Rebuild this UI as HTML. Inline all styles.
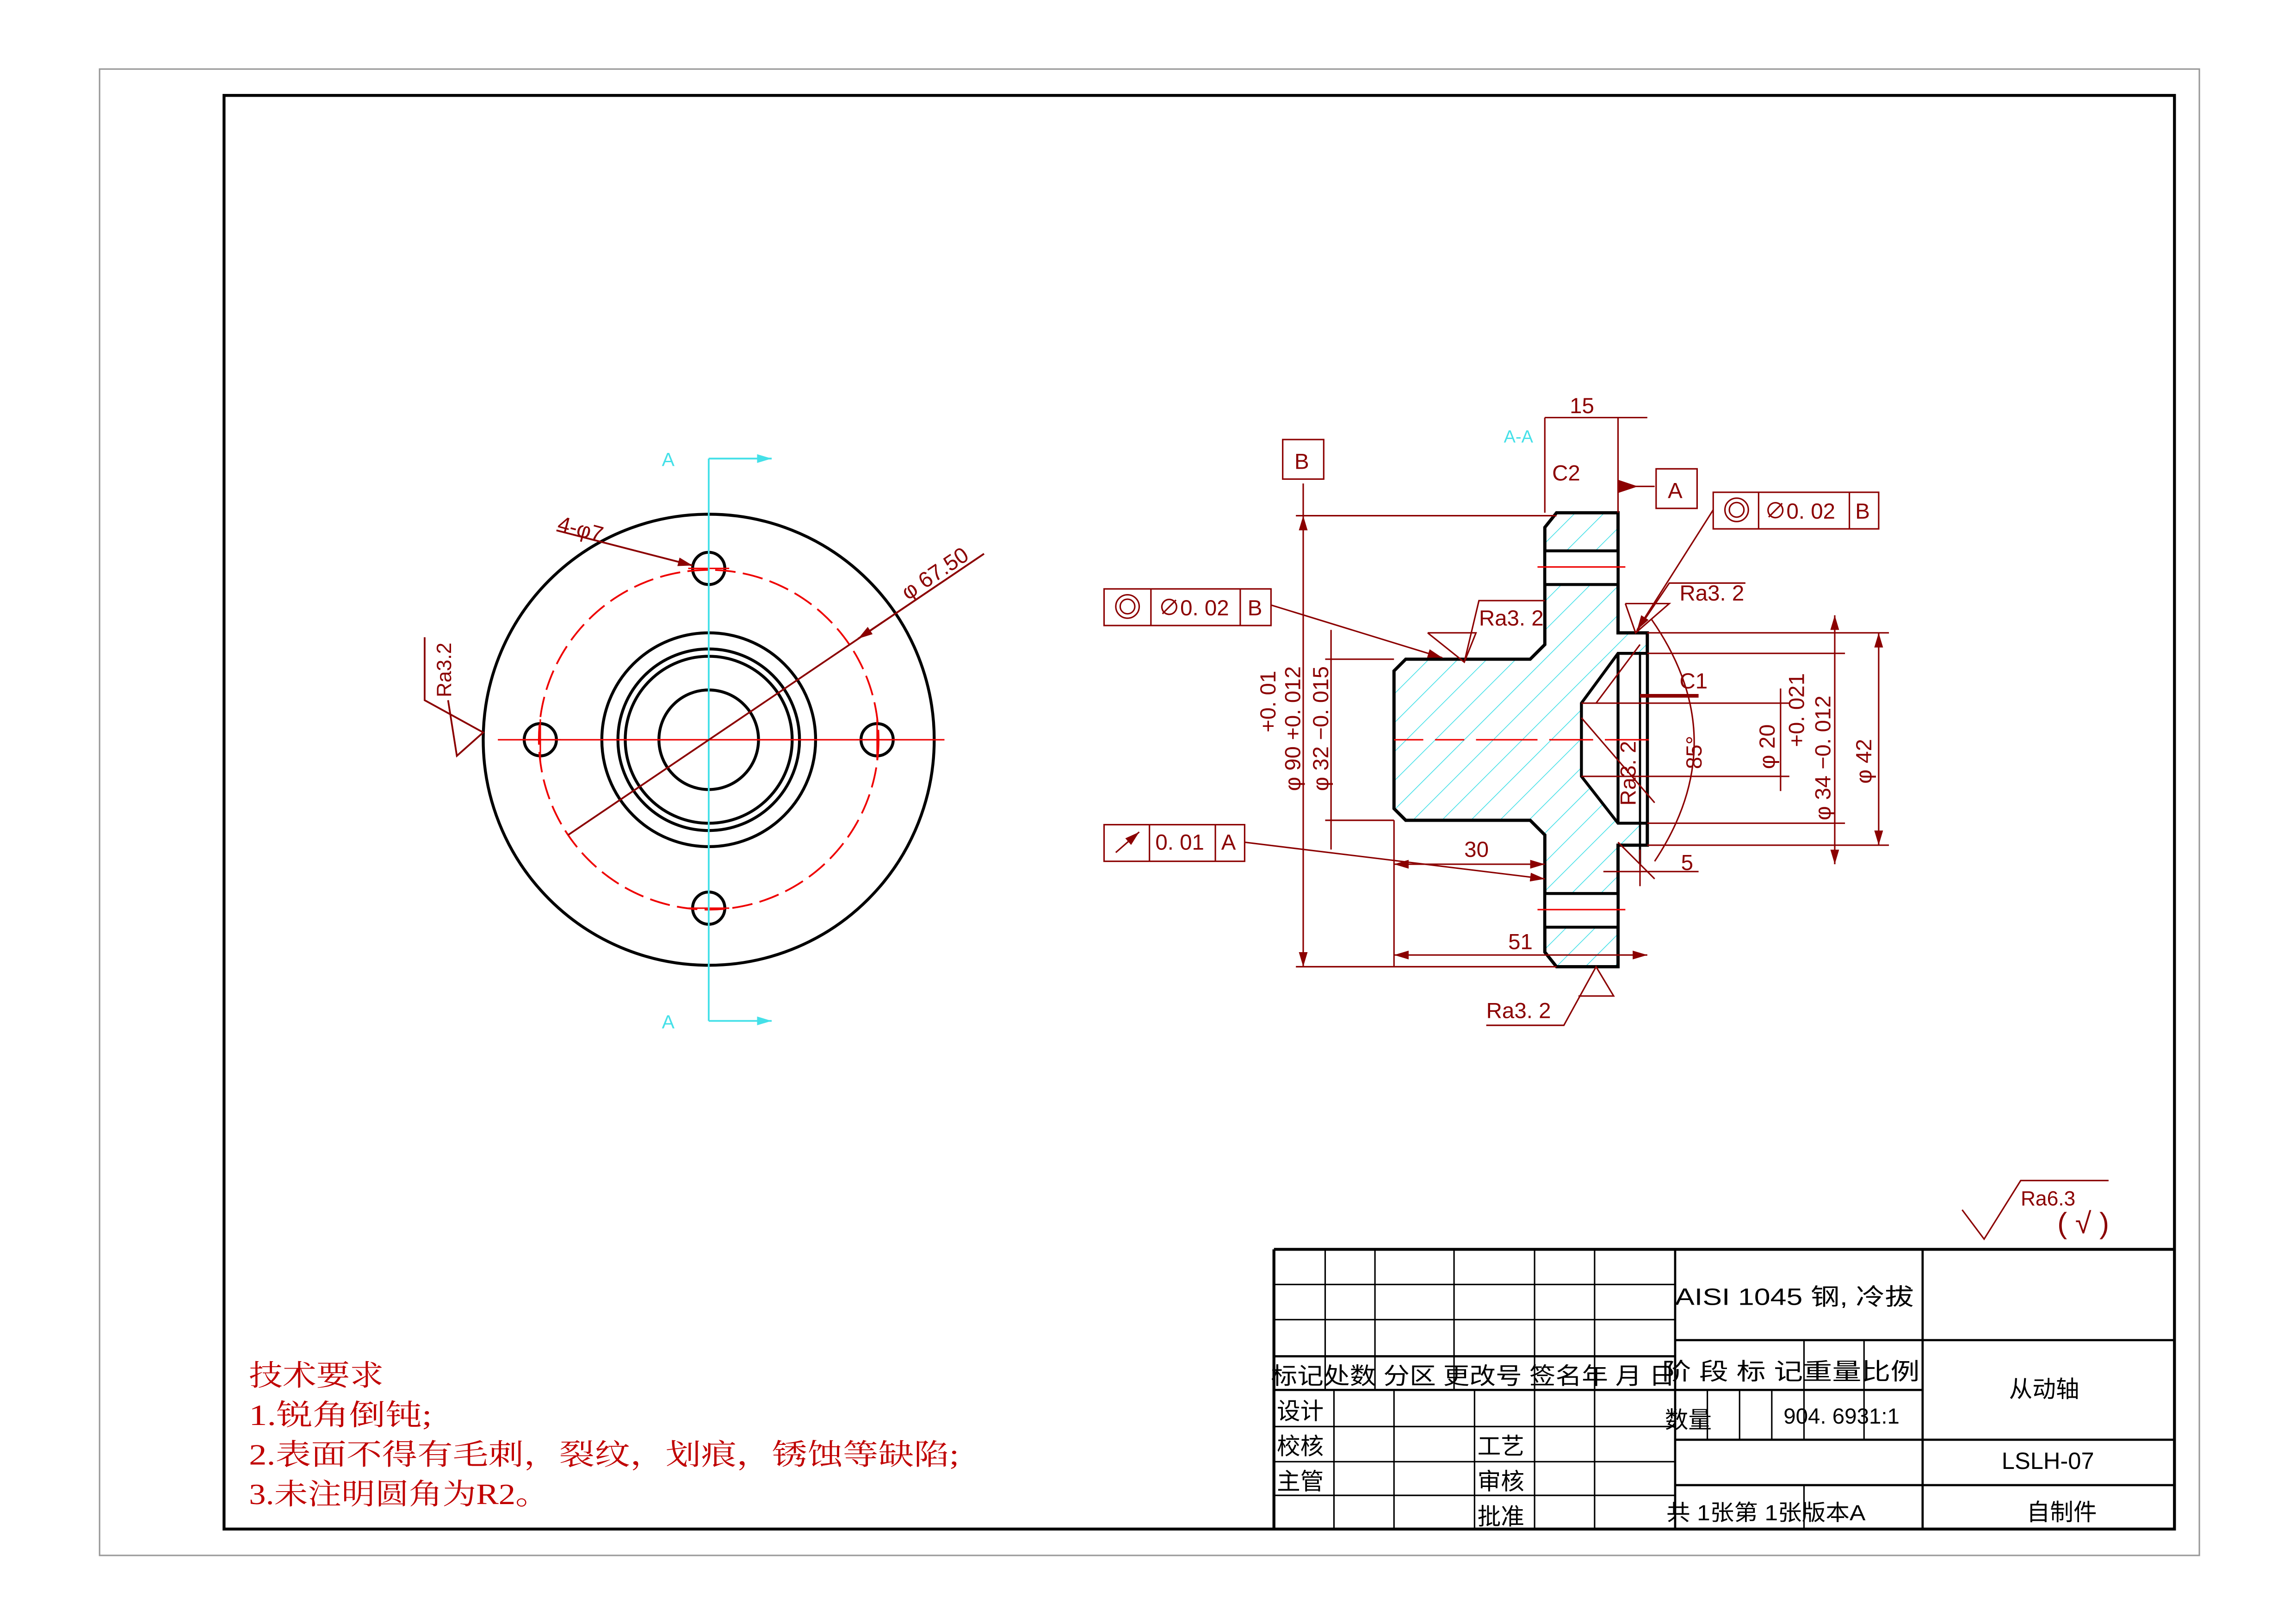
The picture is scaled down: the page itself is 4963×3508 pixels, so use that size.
<!DOCTYPE html>
<html><head><meta charset="utf-8"><style>
html,body{margin:0;padding:0;background:#fff}
svg{display:block}
text{font-family:"Liberation Sans","Noto Sans CJK SC",sans-serif}
</style></head><body>
<svg width="4963" height="3508" viewBox="0 0 1568 1108" xmlns="http://www.w3.org/2000/svg">
<defs>
<pattern id="h" patternUnits="userSpaceOnUse" width="14" height="14" patternTransform="rotate(45)">
<rect width="14" height="14" fill="#fff"/><line x1="0" y1="0" x2="0" y2="14" stroke="#44e0e8" stroke-width="1"/>
</pattern>
<marker id="ar" markerWidth="10" markerHeight="6" refX="10" refY="3" orient="auto" markerUnits="userSpaceOnUse"><path d="M0,0 L10,3 L0,6z" fill="#8b0000"/></marker>
<marker id="as" markerWidth="10" markerHeight="6" refX="0" refY="3" orient="auto" markerUnits="userSpaceOnUse"><path d="M10,0 L0,3 L10,6z" fill="#8b0000"/></marker>
<marker id="ac" markerWidth="10" markerHeight="6" refX="10" refY="3" orient="auto" markerUnits="userSpaceOnUse"><path d="M0,0 L10,3 L0,6z" fill="#44e0e8"/></marker>
</defs>
<rect x="68" y="47" width="1434" height="1015" fill="none" stroke="#999" stroke-width="1"/>
<rect x="153" y="65" width="1332" height="979" fill="none" stroke="#000" stroke-width="2"/>

<g fill="none" stroke="#000" stroke-width="2">
<circle cx="484" cy="505" r="154"/>
<circle cx="484" cy="505" r="73"/>
<circle cx="484" cy="505" r="62"/>
<circle cx="484" cy="505" r="57"/>
<circle cx="484" cy="505" r="34"/>
<circle cx="484" cy="388" r="11"/>
<circle cx="369" cy="505" r="11"/>
<circle cx="599" cy="505" r="11"/>
<circle cx="484" cy="620" r="11"/>
</g>
<circle cx="484" cy="505" r="116" fill="none" stroke="#e00" stroke-width="1.2" stroke-dasharray="14,5"/>
<g stroke="#e00" stroke-width="1">
<line x1="340" y1="505" x2="645" y2="505"/>
<line x1="355" y1="505" x2="383" y2="505"/><line x1="369" y1="491" x2="369" y2="519"/>
<line x1="585" y1="505" x2="613" y2="505"/><line x1="599" y1="491" x2="599" y2="519"/>
<line x1="470" y1="388" x2="498" y2="388"/><line x1="470" y1="620" x2="498" y2="620"/>
</g>
<g stroke="#44e0e8" stroke-width="1.2" fill="none">
<line x1="484" y1="313" x2="484" y2="697"/>
<line x1="484" y1="313" x2="527" y2="313" marker-end="url(#ac)"/>
<line x1="484" y1="697" x2="527" y2="697" marker-end="url(#ac)"/>
</g>
<text x="452" y="318" font-size="13" fill="#44e0e8">A</text>
<text x="452" y="702" font-size="13" fill="#44e0e8">A</text>
<g stroke="#8b0000" stroke-width="1.2" fill="none">
<line x1="380" y1="362" x2="473" y2="386" marker-end="url(#ar)"/>
<line x1="672" y1="378" x2="388" y2="570"/>
<line x1="672" y1="378" x2="586" y2="436" marker-end="url(#ar)"/>
<polyline points="290,435 290,478 330,500 312,516 306,478"/>
</g>
<text x="380" y="362" font-size="15" fill="#8b0000" transform="rotate(15 380 362)">4-φ7</text>
<text x="620" y="410" font-size="15" fill="#8b0000" transform="rotate(-34 620 410)">φ 67.50</text>
<text x="308" y="476" font-size="14" fill="#8b0000" transform="rotate(-90 308 476)">Ra3.2</text>

<path d="M1063,350 L1105,350 L1105,432 L1125,432 L1125,577 L1105,577 L1105,660 L1063,660 L1055,650 L1055,570 L1045,560 L960,560 L952,552 L952,458 L960,450 L1045,450 L1055,440 L1055,360 Z" fill="url(#h)" stroke="#000" stroke-width="2.2"/>
<path d="M1125,446 L1105,446 L1080,480 L1080,530 L1105,562 L1125,562 Z" fill="#fff" stroke="#000" stroke-width="2"/>
<line x1="1105" y1="446" x2="1105" y2="562" stroke="#000" stroke-width="2"/>
<line x1="1120" y1="446" x2="1120" y2="590" stroke="#000" stroke-width="1.5"/>
<rect x="1055" y="376" width="50" height="23" fill="#fff" stroke="#000" stroke-width="2"/>
<rect x="1055" y="610" width="50" height="23" fill="#fff" stroke="#000" stroke-width="2"/>
<g stroke="#e00" stroke-width="1"><line x1="1050" y1="387" x2="1110" y2="387"/><line x1="1050" y1="621" x2="1110" y2="621"/>
<line x1="1020" y1="505" x2="1130" y2="505" stroke-dasharray="30,8"/><line x1="952" y1="505" x2="1020" y2="505" stroke-dasharray="20,8"/></g>

<g stroke="#8b0000" stroke-width="1" fill="none">
<line x1="885" y1="352" x2="1063" y2="352"/>
<line x1="885" y1="660" x2="1063" y2="660"/>
<line x1="890" y1="352" x2="890" y2="660" marker-start="url(#as)" marker-end="url(#ar)"/>
<line x1="890" y1="330" x2="890" y2="352"/>
<line x1="905" y1="450" x2="952" y2="450"/>
<line x1="905" y1="560" x2="952" y2="560"/>
<line x1="909" y1="430" x2="909" y2="580"/>
<line x1="952" y1="560" x2="952" y2="660"/>
<line x1="952" y1="652" x2="1125" y2="652" marker-start="url(#as)" marker-end="url(#ar)"/>
<line x1="952" y1="590" x2="1055" y2="590" marker-start="url(#as)" marker-end="url(#ar)"/>
<line x1="1055" y1="285" x2="1055" y2="350"/>
<line x1="1105" y1="285" x2="1105" y2="350"/>
<line x1="1055" y1="285" x2="1125" y2="285"/>
<line x1="1105" y1="332" x2="1130" y2="332"/>
<path d="M1105,328 L1117,332 L1105,336z" fill="#8b0000"/>
<line x1="1125" y1="432" x2="1290" y2="432"/>
<line x1="1125" y1="577" x2="1290" y2="577"/>
<line x1="1283" y1="432" x2="1283" y2="577" marker-start="url(#as)" marker-end="url(#ar)"/>
<line x1="1125" y1="446" x2="1260" y2="446"/>
<line x1="1125" y1="562" x2="1260" y2="562"/>
<line x1="1253" y1="420" x2="1253" y2="590" marker-start="url(#as)" marker-end="url(#ar)"/>
<line x1="1080" y1="480" x2="1222" y2="480"/>
<line x1="1080" y1="530" x2="1222" y2="530"/>
<line x1="1216" y1="470" x2="1216" y2="540"/>
<line x1="1080" y1="490" x2="1130" y2="548"/>
<line x1="1105" y1="575" x2="1130" y2="600"/>
<line x1="1090" y1="480" x2="1120" y2="440"/>
<path d="M1128,423 Q1185,505 1130,588" />
<line x1="1095" y1="595" x2="1160" y2="595"/>
<line x1="1120" y1="580" x2="1120" y2="605"/>
<line x1="1120" y1="475" x2="1160" y2="475" stroke-width="2.5"/>
<line x1="868" y1="413" x2="985" y2="449" marker-end="url(#ar)"/>
<line x1="850" y1="575" x2="1055" y2="600" marker-end="url(#ar)"/>
<line x1="1170" y1="348" x2="1118" y2="430" marker-end="url(#ar)"/>
<polyline points="975,432 1008,432 1000,452 975,432"/><polyline points="1000,452 1010,410 1055,410"/>
<polyline points="1110,412 1140,412 1117,432 1110,412"/><polyline points="1117,432 1140,398 1192,398"/>
<polyline points="1015,700 1068,700 1090,660 1102,680 1078,680"/>
<rect x="876" y="300" width="28" height="27"/>
<rect x="1131" y="320" width="28" height="27"/>
<rect x="754" y="402" width="114" height="25"/><line x1="786" y1="402" x2="786" y2="427"/><line x1="847" y1="402" x2="847" y2="427"/>
<rect x="1170" y="336" width="113" height="25"/><line x1="1201" y1="336" x2="1201" y2="361"/><line x1="1263" y1="336" x2="1263" y2="361"/>
<rect x="754" y="563" width="96" height="25"/><line x1="785" y1="563" x2="785" y2="588"/><line x1="830" y1="563" x2="830" y2="588"/>
<circle cx="770" cy="414" r="8"/><circle cx="770" cy="414" r="5"/>
<circle cx="1186" cy="348" r="8"/><circle cx="1186" cy="348" r="5"/>
<line x1="762" y1="582" x2="778" y2="568" marker-end="url(#ar)"/>
<polyline points="1340,826 1355,846 1380,806 1440,806"/>
</g>
<g fill="#8b0000" font-size="15">
<text x="884" y="320">B</text><text x="1139" y="340">A</text>
<text x="791" y="420">∅0. 02</text><text x="852" y="420">B</text>
<text x="1205" y="354">∅0. 02</text><text x="1267" y="354">B</text>
<text x="789" y="580">0. 01</text><text x="834" y="580">A</text>
<text x="1072" y="282">15</text><text x="1060" y="328">C2</text>
<text x="1010" y="427">Ra3. 2</text><text x="1147" y="410">Ra3. 2</text>
<text x="1147" y="470">C1</text><text x="1000" y="585">30</text><text x="1030" y="648">51</text>
<text x="1148" y="594">5</text><text x="1015" y="695">Ra3. 2</text>
<text x="1380" y="823" font-size="14">Ra6.3</text><text x="1405" y="842" font-size="20">( √ )</text>
<text x="0" y="0" transform="translate(871,500) rotate(-90)">+0. 01</text>
<text x="0" y="0" transform="translate(888,540) rotate(-90)">φ 90 +0. 012</text>
<text x="0" y="0" transform="translate(907,540) rotate(-90)">φ 32 −0. 015</text>
<text x="0" y="0" transform="translate(1117,550) rotate(-90)">Ra3. 2</text>
<text x="0" y="0" transform="translate(1162,525) rotate(-90)">85°</text>
<text x="0" y="0" transform="translate(1212,525) rotate(-90)">φ 20</text>
<text x="0" y="0" transform="translate(1232,510) rotate(-90)">+0. 021</text>
<text x="0" y="0" transform="translate(1250,560) rotate(-90)">φ 34 −0. 012</text>
<text x="0" y="0" transform="translate(1278,535) rotate(-90)">φ 42</text>
</g>
<text x="1027" y="302" font-size="12" fill="#44e0e8">A-A</text>

<g fill="#c00000" font-size="20">
<text x="170" y="946" textLength="92" lengthAdjust="spacingAndGlyphs" style="font-family:'Liberation Serif','Noto Serif CJK SC',serif">技术要求</text>
<text x="170" y="973" textLength="125" lengthAdjust="spacingAndGlyphs" style="font-family:'Liberation Serif','Noto Serif CJK SC',serif">1.锐角倒钝;</text>
<text x="170" y="1000" textLength="485" lengthAdjust="spacingAndGlyphs" style="font-family:'Liberation Serif','Noto Serif CJK SC',serif">2.表面不得有毛刺，裂纹，划痕，锈蚀等缺陷;</text>
<text x="170" y="1027" textLength="205" lengthAdjust="spacingAndGlyphs" style="font-family:'Liberation Serif','Noto Serif CJK SC',serif">3.未注明圆角为R2。</text>
</g>

<g stroke="#000" stroke-width="1" fill="none">
<line x1="870" y1="853" x2="1485" y2="853" stroke-width="2"/>
<line x1="870" y1="853" x2="870" y2="1044" stroke-width="2"/>
<line x1="870" y1="877" x2="1144" y2="877"/><line x1="870" y1="901" x2="1144" y2="901"/>
<line x1="870" y1="926" x2="1144" y2="926" stroke-width="1.5"/>
<line x1="870" y1="949" x2="1313" y2="949" stroke-width="1.5"/>
<line x1="870" y1="974" x2="1144" y2="974"/><line x1="870" y1="998" x2="1144" y2="998"/><line x1="870" y1="1021" x2="1144" y2="1021"/>
<line x1="905" y1="853" x2="905" y2="949"/><line x1="939" y1="853" x2="939" y2="949"/><line x1="993" y1="853" x2="993" y2="949"/>
<line x1="1048" y1="853" x2="1048" y2="1044"/><line x1="1089" y1="853" x2="1089" y2="1044"/>
<line x1="911" y1="949" x2="911" y2="1044"/><line x1="952" y1="949" x2="952" y2="1044"/><line x1="1007" y1="949" x2="1007" y2="1044"/>
<line x1="1144" y1="853" x2="1144" y2="1044" stroke-width="1.5"/>
<line x1="1313" y1="853" x2="1313" y2="1044" stroke-width="1.5"/>
<line x1="1144" y1="915" x2="1485" y2="915" stroke-width="1.5"/>
<line x1="1144" y1="983" x2="1485" y2="983" stroke-width="1.5"/>
<line x1="1144" y1="1014" x2="1485" y2="1014" stroke-width="1.5"/>
<line x1="1232" y1="915" x2="1232" y2="983"/><line x1="1273" y1="915" x2="1273" y2="983"/>
<line x1="1166" y1="949" x2="1166" y2="983"/><line x1="1188" y1="949" x2="1188" y2="983"/><line x1="1210" y1="949" x2="1210" y2="983"/>
<line x1="1232" y1="1014" x2="1232" y2="1044"/>
</g>
<g font-size="16" fill="#000">
<text x="1144" y="891" textLength="163" lengthAdjust="spacingAndGlyphs">AISI 1045 钢, 冷拔</text>
<text x="868" y="945" textLength="276" lengthAdjust="spacingAndGlyphs">标记处数 分区 更改号 签名年 月 日</text>
<text x="1135" y="942" textLength="176" lengthAdjust="spacingAndGlyphs">阶 段 标 记重量比例</text>
<text x="872" y="969">设计</text><text x="872" y="993">校核</text><text x="872" y="1017">主管</text>
<text x="1009" y="993">工艺</text><text x="1009" y="1017">审核</text><text x="1009" y="1041">批准</text>
<text x="1137" y="975">数量</text><text x="1218" y="972" font-size="15">904. 6931:1</text>
<text x="1138" y="1038" font-size="15" textLength="136" lengthAdjust="spacingAndGlyphs">共 1张第 1张版本A</text>
<text x="1372" y="954">从动轴</text><text x="1367" y="1003">LSLH-07</text><text x="1384" y="1038">自制件</text>
</g>
</svg>
</body></html>
